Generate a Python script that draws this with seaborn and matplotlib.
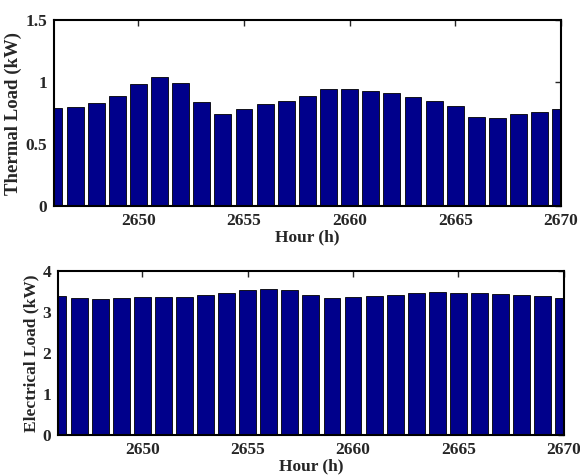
import numpy as np
import pandas as pd
import matplotlib
matplotlib.use("Agg")
import matplotlib.pyplot as plt
import seaborn as sns

hours = list(range(2646, 2671))
thermal_load = [0.79, 0.80, 0.83, 0.89, 0.98, 1.04, 0.99, 0.84, 0.74, 0.78,
                0.82, 0.85, 0.89, 0.94, 0.94, 0.93, 0.91, 0.88, 0.85, 0.81,
                0.72, 0.71, 0.74, 0.76, 0.78]
electrical_load = [3.39, 3.34, 3.32, 3.35, 3.36, 3.38, 3.38, 3.42, 3.46, 3.53,
                   3.57, 3.53, 3.42, 3.34, 3.38, 3.40, 3.43, 3.46, 3.50, 3.47,
                   3.47, 3.45, 3.43, 3.40, 3.35]

sns.set_style("white")
plt.rcParams["font.family"] = ["Liberation Serif", "DejaVu Serif"]
plt.rcParams["font.weight"] = "bold"
plt.rcParams["axes.labelweight"] = "bold"

df = pd.DataFrame({"hour": hours, "thermal": thermal_load, "electrical": electrical_load})

fig = plt.figure(figsize=(5.8, 4.75), dpi=100)
ax1 = fig.add_axes([0.093, 0.566, 0.874, 0.392])
ax2 = fig.add_axes([0.100, 0.084, 0.872, 0.345])

bar_color = "#00008B"
for ax, col, ylim, yticks, ylabel, ylsize in [
    (ax1, "thermal", 1.5, [0, 0.5, 1, 1.5], "Thermal Load (kW)", 13.5),
    (ax2, "electrical", 4, [0, 1, 2, 3, 4], "Electrical Load (kW)", 12.5),
]:
    sns.barplot(data=df, x="hour", y=col, native_scale=True, width=0.8,
                color=bar_color, saturation=1, edgecolor="black",
                linewidth=0.6, ax=ax)
    ax.set_xlim(2646, 2670)
    ax.set_ylim(0, ylim)
    ax.set_xticks([2650, 2655, 2660, 2665, 2670])
    ax.set_yticks(yticks)
    ax.set_yticklabels([f"{t:g}" for t in yticks])
    ax.set_xlabel("Hour (h)", fontsize=12.5, labelpad=0)
    ax.set_ylabel(ylabel, fontsize=ylsize, labelpad=2)
    ax.tick_params(direction="in", top=True, right=True, length=4,
                   labelsize=12.5, pad=5, width=1)
    for s in ax.spines.values():
        s.set_visible(True)
        s.set_color("black")
        s.set_linewidth(1.5)
    for lab in ax.get_xticklabels() + ax.get_yticklabels():
        lab.set_fontweight("bold")

fig.savefig("out.png", dpi=100)
